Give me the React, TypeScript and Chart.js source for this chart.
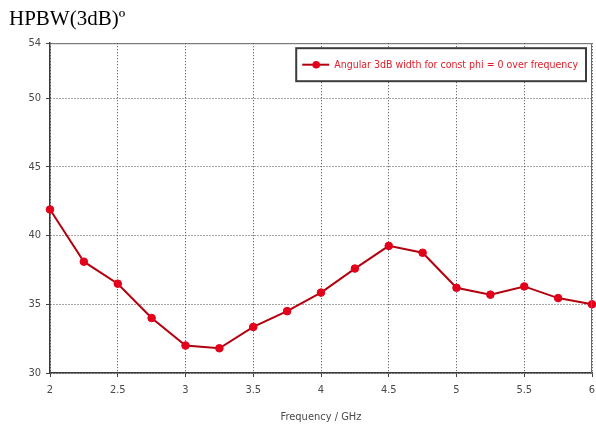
import React, { useEffect, useRef } from "react";
import { Chart, registerables } from "chart.js";

Chart.register(...registerables);

const frequencies = [2, 2.25, 2.5, 2.75, 3, 3.25, 3.5, 3.75, 4, 4.25, 4.5, 4.75, 5, 5.25, 5.5, 5.75, 6];
const hpbw = [41.9, 38.1, 36.5, 34.0, 32.0, 31.8, 33.35, 34.5, 35.85, 37.6, 39.25, 38.75, 36.2, 35.7, 36.3, 35.45, 35.0];
const yTicks = [30, 35, 40, 45, 50, 54];
const seriesLabel = "Angular 3dB width for const phi = 0 over frequency";
const chartTitle = "HPBW(3dB)\u00ba";
const xTitle = "Frequency / GHz";

const NARROW = "'DejaVu Sans Condensed', 'Liberation Sans Narrow', sans-serif";
const LINE_COLOR = "#b3000f";
const POINT_COLOR = "#e2001b";

const frameAndLegend = {
  id: "frameAndLegend",
  afterDraw(chart: any) {
    const { ctx, chartArea } = chart;
    ctx.save();
    ctx.strokeStyle = "#6a6a6a";
    ctx.lineWidth = 1;
    ctx.beginPath();
    ctx.moveTo(chartArea.left, chartArea.top + 0.5);
    ctx.lineTo(chartArea.right - 0.5, chartArea.top + 0.5);
    ctx.lineTo(chartArea.right - 0.5, chartArea.bottom);
    ctx.stroke();

    ctx.font = `10.5px ${NARROW}`;
    const tw = ctx.measureText(seriesLabel).width;
    const w = tw + 46;
    const h = 33;
    const x = chartArea.right - 6 - w;
    const y = chartArea.top + 5;
    ctx.fillStyle = "#ffffff";
    ctx.fillRect(x, y, w, h);
    ctx.strokeStyle = "#3c3c3c";
    ctx.lineWidth = 2;
    ctx.strokeRect(x, y, w, h);
    const cy = y + h / 2;
    ctx.strokeStyle = LINE_COLOR;
    ctx.lineWidth = 2;
    ctx.beginPath();
    ctx.moveTo(x + 6, cy);
    ctx.lineTo(x + 33, cy);
    ctx.stroke();
    ctx.fillStyle = POINT_COLOR;
    ctx.beginPath();
    ctx.arc(x + 20, cy, 3.8, 0, Math.PI * 2);
    ctx.fill();
    ctx.fillStyle = "#e0202a";
    ctx.textBaseline = "middle";
    ctx.textAlign = "left";
    ctx.fillText(seriesLabel, x + 38, cy + 1);
    ctx.restore();
  },
};

export default function App() {
  const ref = useRef<HTMLCanvasElement | null>(null);

  useEffect(() => {
    if (!ref.current) return;
    const chart = new Chart(ref.current, {
      type: "line",
      data: {
        datasets: [
          {
            label: seriesLabel,
            data: frequencies.map((f, i) => ({ x: f, y: hpbw[i] })),
            borderColor: LINE_COLOR,
            borderWidth: 2,
            pointBackgroundColor: POINT_COLOR,
            pointBorderColor: POINT_COLOR,
            pointRadius: 3.8,
            pointBorderWidth: 1,
            tension: 0,
            clip: false as any,
          },
        ],
      },
      options: {
        responsive: false,
        animation: false,
        devicePixelRatio: 1,
        layout: { autoPadding: false, padding: { left: 9, right: 4, top: 0, bottom: 0 } },
        plugins: {
          legend: { display: false },
          tooltip: { enabled: false },
          title: {
            display: true,
            text: chartTitle,
            align: "start",
            color: "#000000",
            font: { family: "'Liberation Serif', 'Times New Roman', serif", size: 21, weight: "normal" },
            padding: { top: 7, bottom: 11 },
          },
        },
        scales: {
          x: {
            type: "linear",
            min: 2,
            max: 6,
            afterFit: (s: any) => {
              s.height = 55;
              s.paddingRight = 0;
              s.paddingLeft = 0;
            },
            ticks: {
              stepSize: 0.5,
              color: "#4a4a4a",
              font: { family: NARROW, size: 11 },
              padding: 7,
              maxRotation: 0,
              callback: (v: any) => String(v),
            },
            grid: { color: "#4a4a4a", lineWidth: 1, tickLength: 4, tickColor: "#444" },
            border: { display: true, color: "#3a3a3a", width: 1.5, dash: [1, 2] },
            title: {
              display: true,
              text: xTitle,
              color: "#4a4a4a",
              font: { family: NARROW, size: 11 },
              padding: { top: 0, bottom: 4 },
            },
          },
          y: {
            type: "linear",
            min: 30,
            max: 54,
            afterFit: (s: any) => {
              s.width = 41;
            },
            afterBuildTicks: (s: any) => {
              s.ticks = yTicks.map((v) => ({ value: v }));
            },
            ticks: {
              color: "#4a4a4a",
              font: { family: NARROW, size: 11 },
              padding: 5,
            },
            grid: { color: "#4a4a4a", lineWidth: 1, tickLength: 4, tickColor: "#444" },
            border: { display: true, color: "#3a3a3a", width: 1.5, dash: [1, 2] },
          },
        },
      },
      plugins: [frameAndLegend],
    });
    return () => chart.destroy();
  }, []);

  return (
    <div style={{ position: "absolute", left: 0, top: 0, width: 596, height: 428, background: "#fff" }}>
      <canvas ref={ref} width={596} height={428} />
    </div>
  );
}
